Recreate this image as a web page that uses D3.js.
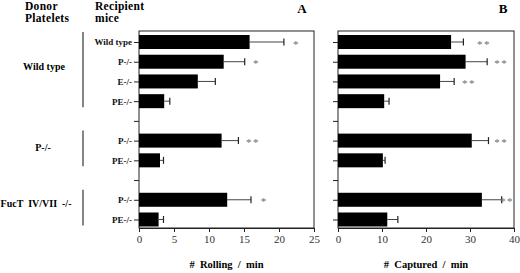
<!DOCTYPE html>
<html><head><meta charset="utf-8">
<script src="https://cdn.jsdelivr.net/npm/d3@7"></script>
<style>
html,body{margin:0;padding:0;background:#fff;}
svg{display:block;}
svg text{font-family:"Liberation Serif","Times New Roman",serif !important;}
</style></head>
<body><svg id="c" width="520" height="273"></svg>
<script>
// ---- data ----
const recipients = ["Wild type","P-/-","E-/-","PE-/-","","P-/-","PE-/-","","P-/-","PE-/-"];
const donorGroups = ["Wild type","P-/-","FucT  IV/VII  -/-"];
const donorFirstRow = [0,5,8];
const donorLastRow = [3,6,9];
const rollingMean = [15.8,12.1,8.4,3.6,null,11.8,3.0,null,12.6,2.8];
const rollingErr  = [4.9,3.0,2.5,0.8,null,2.4,0.5,null,3.4,0.7];
const rollingSig  = ["*","*","","","","**","","","*",""];
const rollingSigAt = [22.5,16.8,null,null,null,16.3,null,null,17.9,null];
const capturedMean = [25.7,29.0,23.2,10.5,null,30.4,10.2,null,32.7,11.2];
const capturedErr  = [2.8,4.9,3.2,1.1,null,3.8,0.5,null,4.5,2.4];
const capturedSig  = ["**","**","**","","","**","","","**",""];
const capturedSigAt = [33.2,37.1,29.8,null,null,37.1,null,null,38.4,null];
const rollingTicks = [0,5,10,15,20,25];
const capturedTicks = [0,10,20,30,40];

const svg = d3.select("#c");
const plotTop = 31, plotBottom = 228;
const rows = d3.range(recipients.length);
const y = d3.scalePoint().domain(rows).range([42, 219.5]);
const barH = 14;

function panel(x0, x1, maxV, ticks, mean, err, sig, sigAt, showLabels, letter, letterX, title) {
  const x = d3.scaleLinear().domain([0, maxV]).range([x0, x1]);
  const g = svg.append("g");
  g.append("rect").attr("x", x0).attr("y", plotTop).attr("width", x1 - x0).attr("height", plotBottom - plotTop)
    .attr("fill", "none").attr("stroke", "#222").attr("stroke-width", 1);
  const data = rows.filter(i => mean[i] != null);
  g.selectAll("rect.bar").data(data).join("rect").attr("class","bar")
    .attr("x", x(0)).attr("y", i => y(i) - barH/2)
    .attr("width", i => x(mean[i]) - x(0)).attr("height", barH).attr("fill", "#000");
  g.selectAll("line.err").data(data).join("line").attr("class","err")
    .attr("x1", i => x(mean[i])).attr("x2", i => x(mean[i] + err[i]))
    .attr("y1", i => y(i)).attr("y2", i => y(i)).attr("stroke", "#444").attr("stroke-width", 1);
  g.selectAll("line.cap").data(data).join("line").attr("class","cap")
    .attr("x1", i => x(mean[i] + err[i])).attr("x2", i => x(mean[i] + err[i]))
    .attr("y1", i => y(i) - 3.5).attr("y2", i => y(i) + 3.5).attr("stroke", "#222").attr("stroke-width", 1.2);
  g.selectAll("text.sig").data(rows.filter(i => sig[i])).join("text").attr("class","sig")
    .attr("x", i => x(sigAt[i])).attr("y", i => y(i) + 5.5)
    .attr("text-anchor", "middle").attr("font-size", 11).attr("letter-spacing", 1.5)
    .attr("fill", "#6e6e6e").text(i => sig[i]);
  const xa = g.append("g").attr("transform", `translate(0,${plotBottom})`)
    .call(d3.axisBottom(x).tickValues(ticks).tickSize(4).tickPadding(3).tickFormat(d3.format("d")));
  xa.select(".domain").attr("stroke", "#222");
  xa.selectAll(".tick line").attr("stroke", "#222");
  xa.selectAll("text").attr("font-size", 11).attr("fill", "#333");
  const ya = g.append("g").attr("transform", `translate(${x0},0)`)
    .call(d3.axisLeft(y).tickSize(5).tickPadding(2).tickFormat(i => showLabels ? recipients[i] : ""));
  ya.select(".domain").remove();
  ya.selectAll(".tick line").attr("stroke", "#222");
  ya.selectAll("text").attr("font-size", 9).attr("font-weight", "bold").attr("fill", "#111");
  svg.append("text").attr("x", letterX).attr("y", 13).attr("text-anchor", "middle")
    .attr("font-size", 13).attr("font-weight", "bold").text(letter);
  svg.append("text").attr("x", (x0 + x1) / 2).attr("y", 268).attr("text-anchor", "middle")
    .attr("font-size", 10.5).attr("font-weight", "bold")
    .style("white-space", "pre").text(title);
}

panel(139, 314, 25, rollingTicks, rollingMean, rollingErr, rollingSig, rollingSigAt, true, "A", 302, "#  Rolling  /  min");
panel(338, 514, 40, capturedTicks, capturedMean, capturedErr, capturedSig, capturedSigAt, false, "B", 503, "#  Captured  /  min");

const hdr = (t, x, yy) => svg.append("text").attr("x", x).attr("y", yy)
  .attr("font-size", 11.5).attr("font-weight", "bold").attr("letter-spacing", 0.3).text(t);
hdr("Donor", 25, 9.5); hdr("Platelets", 25, 22);
hdr("Recipient", 95, 9.5); hdr("mice", 95, 22);

const labelShift = [-5.5, -3, -6];
const labelX = [44, 43, 36];
donorGroups.forEach((name, k) => {
  const yc = (y(donorFirstRow[k]) + y(donorLastRow[k])) / 2;
  svg.append("text").attr("x", labelX[k]).attr("y", yc + labelShift[k] + 3.5).attr("text-anchor", "middle")
    .attr("font-size", 10).attr("font-weight", "bold").style("white-space", "pre").text(name);
  svg.append("line").attr("x1", 83).attr("x2", 83)
    .attr("y1", y(donorFirstRow[k]) - 10).attr("y2", y(donorLastRow[k]) + 6)
    .attr("stroke", "#333").attr("stroke-width", 1.2);
});
</script></body></html>
